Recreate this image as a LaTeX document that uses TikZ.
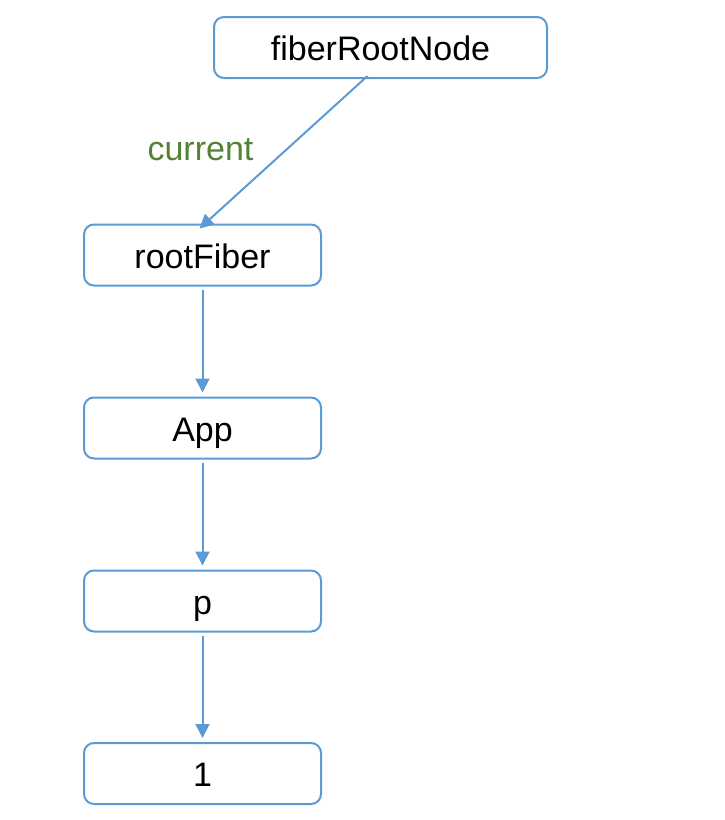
\documentclass[tikz,border=0pt]{standalone}
\usepackage{fontspec}
\setmainfont{Liberation Sans}
\usetikzlibrary{arrows.meta}
\definecolor{lineblue}{RGB}{91,155,213}
\definecolor{labgreen}{RGB}{84,130,53}
\begin{document}
\begin{tikzpicture}[x=1pt,y=-1pt,
  box/.style={draw=lineblue,line width=2pt,rounded corners=10pt,fill=white,
    minimum height=61pt,inner sep=0pt,text height=30pt,text depth=4pt,
    font=\fontsize{34}{40}\selectfont},
  conn/.style={draw=lineblue,line width=2pt,-{Triangle[length=14pt,width=14pt]}}]
\useasboundingbox (0,0) rectangle (725,820);
\node[box,minimum width=333pt] (top) at (380.5,47.5) {fiberRootNode};
\node[box,minimum width=237pt] (rf) at (202.5,255) {rootFiber};
\node[box,minimum width=237pt] (app) at (202.5,428) {App};
\node[box,minimum width=237pt] (p) at (202.5,601) {p};
\node[box,minimum width=237pt] (one) at (202.5,773.5) {1};
\draw[conn] ([xshift=-13pt,yshift=3pt]top.south) -- ([xshift=-3pt,yshift=-5pt]rf.north);
\node[text=labgreen,font=\fontsize{34}{40}\selectfont] (cur) at (200.5,150) {current};
\draw[conn,shorten <=3pt,shorten >=4pt] (rf) -- (app);
\draw[conn,shorten <=3pt,shorten >=4pt] (app) -- (p);
\draw[conn,shorten <=3pt,shorten >=4pt] (p) -- (one);
\end{tikzpicture}
\end{document}
